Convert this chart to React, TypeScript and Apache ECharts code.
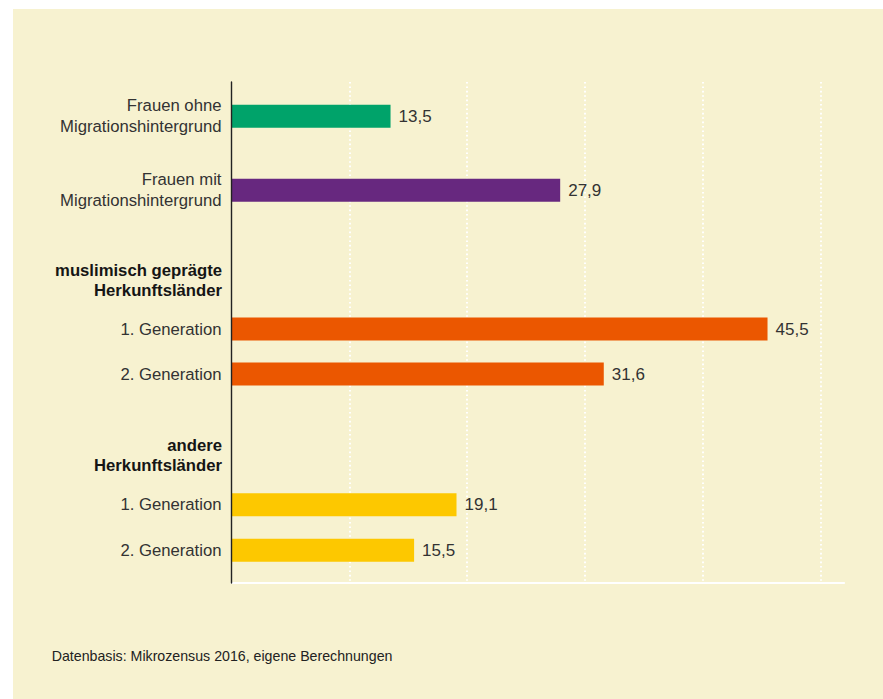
import React, { useEffect, useRef } from "react";
import * as echarts from "echarts";

const topCategories = ["Frauen ohne\nMigrationshintergrund", "Frauen mit\nMigrationshintergrund"];
const topValues = [13.5, 27.9];
const generationCategories = ["1. Generation", "2. Generation"];
const muslimValues = [45.5, 31.6];
const otherValues = [19.1, 15.5];
const groupHeaders = ["muslimisch geprägte\nHerkunftsländer", "andere\nHerkunftsländer"];
const xMin = 0;
const xMax = 52;
const xInterval = 10;
const footnote = "Datenbasis: Mikrozensus 2016, eigene Berechnungen";

const FONT = "'Liberation Sans', Arial, Helvetica, sans-serif";
const GREEN = "#00a36a";
const PURPLE = "#67287f";
const ORANGE = "#eb5700";
const YELLOW = "#fdc800";
const CREAM = "#f7f2d0";

const fmt = (v: number) => v.toFixed(1).replace(".", ",");

export default function App() {
  const ref = useRef<HTMLDivElement>(null);
  useEffect(() => {
    if (!ref.current) return;
    const chart = echarts.init(ref.current, null, { renderer: "svg" });
    const L = 218.5;
    const R = 38.9;
    const grids = [
      { left: L, right: R, top: 73, bottom: 116 },
      { left: L, right: R, top: 70.3, height: 148 },
      { left: L, right: R, top: 297.5, height: 90 },
      { left: L, right: R, top: 473, height: 91 },
    ];
    const hiddenX = (i: number) => ({
      type: "value",
      gridIndex: i,
      min: xMin,
      max: xMax,
      interval: xInterval,
      show: false,
    });
    const catY = (i: number, data: string[]) => ({
      type: "category",
      gridIndex: i,
      data,
      inverse: true,
      axisLine: { show: false },
      axisTick: { show: false },
      splitLine: { show: false },
      axisLabel: {
        fontFamily: FONT,
        fontSize: 16.7,
        color: "#333",
        margin: 10,
        lineHeight: 21,
        align: "right",
      },
    });
    const label = {
      show: true,
      position: "right",
      distance: 8,
      fontFamily: FONT,
      fontSize: 17,
      color: "#333",
      formatter: (p: any) => fmt(p.value),
    };
    const option: any = {
      animation: false,
      backgroundColor: "transparent",
      grid: grids,
      xAxis: [
        {
          type: "value",
          gridIndex: 0,
          min: xMin,
          max: xMax,
          interval: xInterval,
          axisLabel: { show: false },
          axisTick: { show: false },
          axisLine: { show: true, lineStyle: { color: "#ffffff", width: 2 } },
          splitLine: {
            show: true,
            showMinLine: false,
            showMaxLine: false,
            lineStyle: { color: "#ffffff", width: 2, type: [1.6, 2.8] },
          },
        },
        hiddenX(1),
        hiddenX(2),
        hiddenX(3),
      ],
      yAxis: [
        {
          type: "value",
          gridIndex: 0,
          min: 0,
          max: 1,
          axisLabel: { show: false },
          axisTick: { show: false },
          splitLine: { show: false },
          axisLine: { show: true, lineStyle: { color: "#222", width: 1.4 } },
          z: 5,
        },
        catY(1, topCategories),
        catY(2, generationCategories),
        catY(3, generationCategories),
      ],
      series: [
        {
          type: "bar",
          xAxisIndex: 1,
          yAxisIndex: 1,
          barWidth: 23,
          data: topValues.map((v, i) => ({
            value: v,
            itemStyle: { color: i === 0 ? GREEN : PURPLE },
          })),
          label,
        },
        {
          type: "bar",
          xAxisIndex: 2,
          yAxisIndex: 2,
          barWidth: 23,
          itemStyle: { color: ORANGE },
          data: muslimValues,
          label,
        },
        {
          type: "bar",
          xAxisIndex: 3,
          yAxisIndex: 3,
          barWidth: 23,
          itemStyle: { color: YELLOW },
          data: otherValues,
          label,
        },
      ],
      graphic: [
        {
          type: "text",
          x: 209,
          y: 271,
          style: {
            text: groupHeaders[0],
            fontFamily: FONT,
            fontSize: 16.7,
            fontWeight: "bold",
            lineHeight: 20,
            fill: "#151515",
            align: "right",
            verticalAlign: "middle",
          },
        },
        {
          type: "text",
          x: 209,
          y: 446,
          style: {
            text: groupHeaders[1],
            fontFamily: FONT,
            fontSize: 16.7,
            fontWeight: "bold",
            lineHeight: 20,
            fill: "#151515",
            align: "right",
            verticalAlign: "middle",
          },
        },
        {
          type: "text",
          x: 38.7,
          y: 646.7,
          style: {
            text: footnote,
            fontFamily: FONT,
            fontSize: 14.2,
            fill: "#222",
            align: "left",
            verticalAlign: "middle",
          },
        },
      ],
    };
    chart.setOption(option);
    return () => chart.dispose();
  }, []);
  return (
    <div
      style={{
        position: "fixed",
        left: 0,
        top: 0,
        width: 883,
        height: 699,
        background: "#ffffff",
        overflow: "hidden",
      }}
    >
      <div
        style={{
          position: "absolute",
          left: 13,
          top: 9,
          width: 870,
          height: 690,
          background: CREAM,
        }}
      >
        <div ref={ref} style={{ width: 870, height: 690 }} />
      </div>
    </div>
  );
}
